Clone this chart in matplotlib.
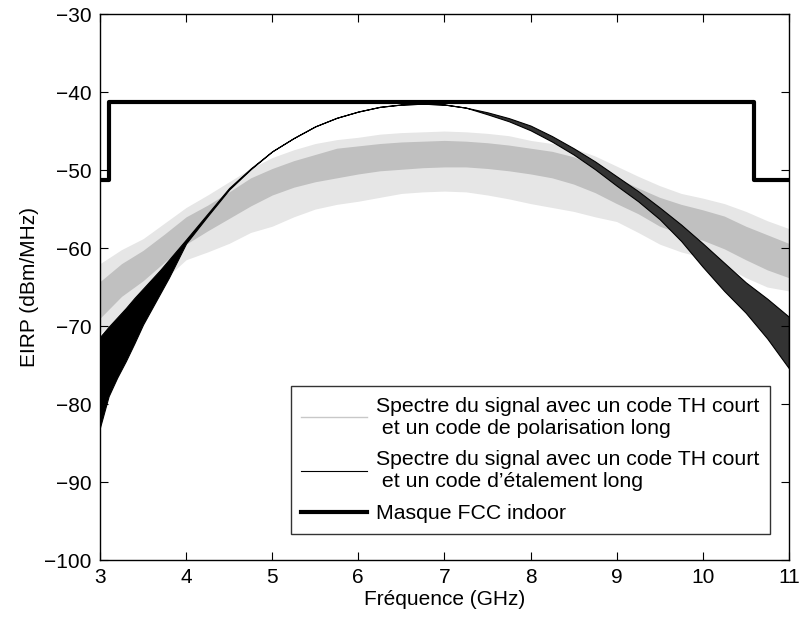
import matplotlib
matplotlib.use("Agg")
import matplotlib.pyplot as plt
from matplotlib.lines import Line2D
import numpy as np

plt.rcParams['font.family'] = ['Liberation Sans', 'DejaVu Sans']

# spectre gris (code TH court + code de polarisation long) : bande dense + pics
freq_gris = [3.0, 3.25, 3.5, 3.75, 4.0, 4.25, 4.5, 4.75, 5.0, 5.25, 5.5, 5.75,
             6.0, 6.25, 6.5, 6.75, 7.0, 7.25, 7.5, 7.75, 8.0, 8.25, 8.5, 8.75,
             9.0, 9.25, 9.5, 9.75, 10.0, 10.25, 10.5, 10.75, 11.0]
gris_haut = [-64.3, -62.0, -60.3, -58.2, -56.0, -54.5, -52.8, -51.0, -49.8, -48.8, -48.0, -47.2,
             -46.9, -46.6, -46.4, -46.3, -46.2, -46.3, -46.5, -46.8, -47.2, -47.6, -48.3, -49.5,
             -51.0, -52.3, -53.5, -54.4, -55.1, -55.9, -57.2, -58.3, -59.4]
gris_bas = [-69.0, -66.2, -64.2, -61.8, -59.5, -57.8, -56.2, -54.6, -53.2, -52.2, -51.5, -51.0,
            -50.5, -50.1, -49.9, -49.7, -49.6, -49.6, -49.8, -50.1, -50.5, -51.0, -51.8, -52.9,
            -54.3, -55.6, -57.2, -58.2, -59.0, -60.1, -61.5, -62.8, -63.8]
gris_pic_haut = [-62.0, -60.2, -58.8, -56.8, -54.8, -53.2, -51.5, -49.8, -48.4, -47.4, -46.6, -46.1,
                 -45.8, -45.4, -45.2, -45.1, -45.0, -45.1, -45.3, -45.6, -46.2, -46.6, -47.2, -48.2,
                 -49.5, -50.8, -52.0, -53.0, -53.6, -54.3, -55.3, -56.5, -57.5]
gris_pic_bas = [-71.0, -68.5, -66.5, -64.0, -61.5, -60.5, -59.4, -58.0, -57.2, -56.0, -55.0, -54.4,
                -54.0, -53.5, -53.0, -52.8, -52.7, -52.8, -53.2, -53.7, -54.3, -54.8, -55.3, -56.0,
                -56.6, -58.0, -59.5, -60.5, -61.2, -62.3, -63.8, -65.0, -65.5]

# spectre noir (code TH court + code d'etalement long) : enveloppe des oscillations
freq_noir = [3.0, 3.1, 3.2, 3.3, 3.4, 3.5, 3.6, 3.7, 3.8, 3.9, 4.0,
             4.25, 4.5, 4.75, 5.0, 5.25, 5.5, 5.75, 6.0, 6.25, 6.5, 6.75, 7.0, 7.25,
             7.5, 7.75, 8.0, 8.25, 8.5, 8.75, 9.0, 9.25, 9.5, 9.75, 10.0, 10.25, 10.5, 10.75, 11.0]
noir_haut = [-71.4, -70.1, -68.9, -67.7, -66.4, -65.2, -64.0, -62.8, -61.5, -60.2, -58.9,
             -55.6, -52.3, -49.8, -47.6, -45.9, -44.4, -43.3, -42.5, -41.9, -41.6, -41.5, -41.6, -42.0,
             -42.6, -43.35, -44.3, -45.65, -47.2, -48.9, -50.8, -52.7, -54.8, -57.0, -59.4, -61.9, -64.4, -66.5, -68.8]
noir_bas = [-83.0, -79.0, -76.6, -74.5, -72.2, -69.8, -67.8, -65.8, -63.8, -61.6, -59.4,
            -55.9, -52.5, -49.9, -47.6, -45.9, -44.4, -43.3, -42.5, -41.9, -41.6, -41.5, -41.6, -42.0,
            -42.85, -43.75, -44.9, -46.35, -48.0, -49.9, -52.0, -54.0, -56.3, -59.1, -62.4, -65.5, -68.3, -71.6, -75.4]

# masque FCC indoor
masque_f = [3.0, 3.1, 3.1, 10.6, 10.6, 11.0]
masque_p = [-51.3, -51.3, -41.3, -41.3, -51.3, -51.3]

labels = ['Spectre du signal avec un code TH court\n et un code de polarisation long',
          'Spectre du signal avec un code TH court\n et un code d\u2019\u00e9talement long',
          'Masque FCC indoor']

fig = plt.figure(figsize=(8, 6.19), dpi=100)
ax = fig.add_axes([0.125, 0.0953, 0.861, 0.882])

ax.fill_between(freq_gris, gris_pic_bas, gris_pic_haut, color='#e6e6e6', lw=0)
ax.fill_between(freq_gris, gris_bas, gris_haut, color='#c0c0c0', lw=0)

fn = np.array(freq_noir)
ax.fill_between(fn, noir_bas, noir_haut, where=fn <= 5, facecolor='k', edgecolor='k', lw=0.8)
ax.fill_between(fn, noir_bas, noir_haut, where=fn >= 5, facecolor='0.2', edgecolor='k', lw=0.8)

ax.plot(masque_f, masque_p, color='k', lw=3)

ax.set_xlim(3, 11)
ax.set_ylim(-100, -30)
ax.set_xticks(range(3, 12))
ax.set_yticks(range(-100, -29, 10))
ax.tick_params(direction='in', top=True, right=True, length=6, labelsize=15, pad=6)
for s in ax.spines.values():
    s.set_linewidth(1)
ax.set_xlabel('Fr\u00e9quence (GHz)', fontsize=15, labelpad=2)
ax.set_ylabel('EIRP (dBm/MHz)', fontsize=15, labelpad=4)

handles = [Line2D([], [], color='#c8c8c8', lw=1),
           Line2D([], [], color='k', lw=0.8),
           Line2D([], [], color='k', lw=3)]
leg = ax.legend(handles, labels, loc='lower right', bbox_to_anchor=(0.972, 0.048),
                borderaxespad=0, fontsize=15.3, frameon=True, fancybox=False, edgecolor='k',
                handlelength=3.1, handletextpad=0.4, labelspacing=0.6, borderpad=0.5)
leg.get_frame().set_linewidth(1)

plt.savefig('out.png', dpi=100)
